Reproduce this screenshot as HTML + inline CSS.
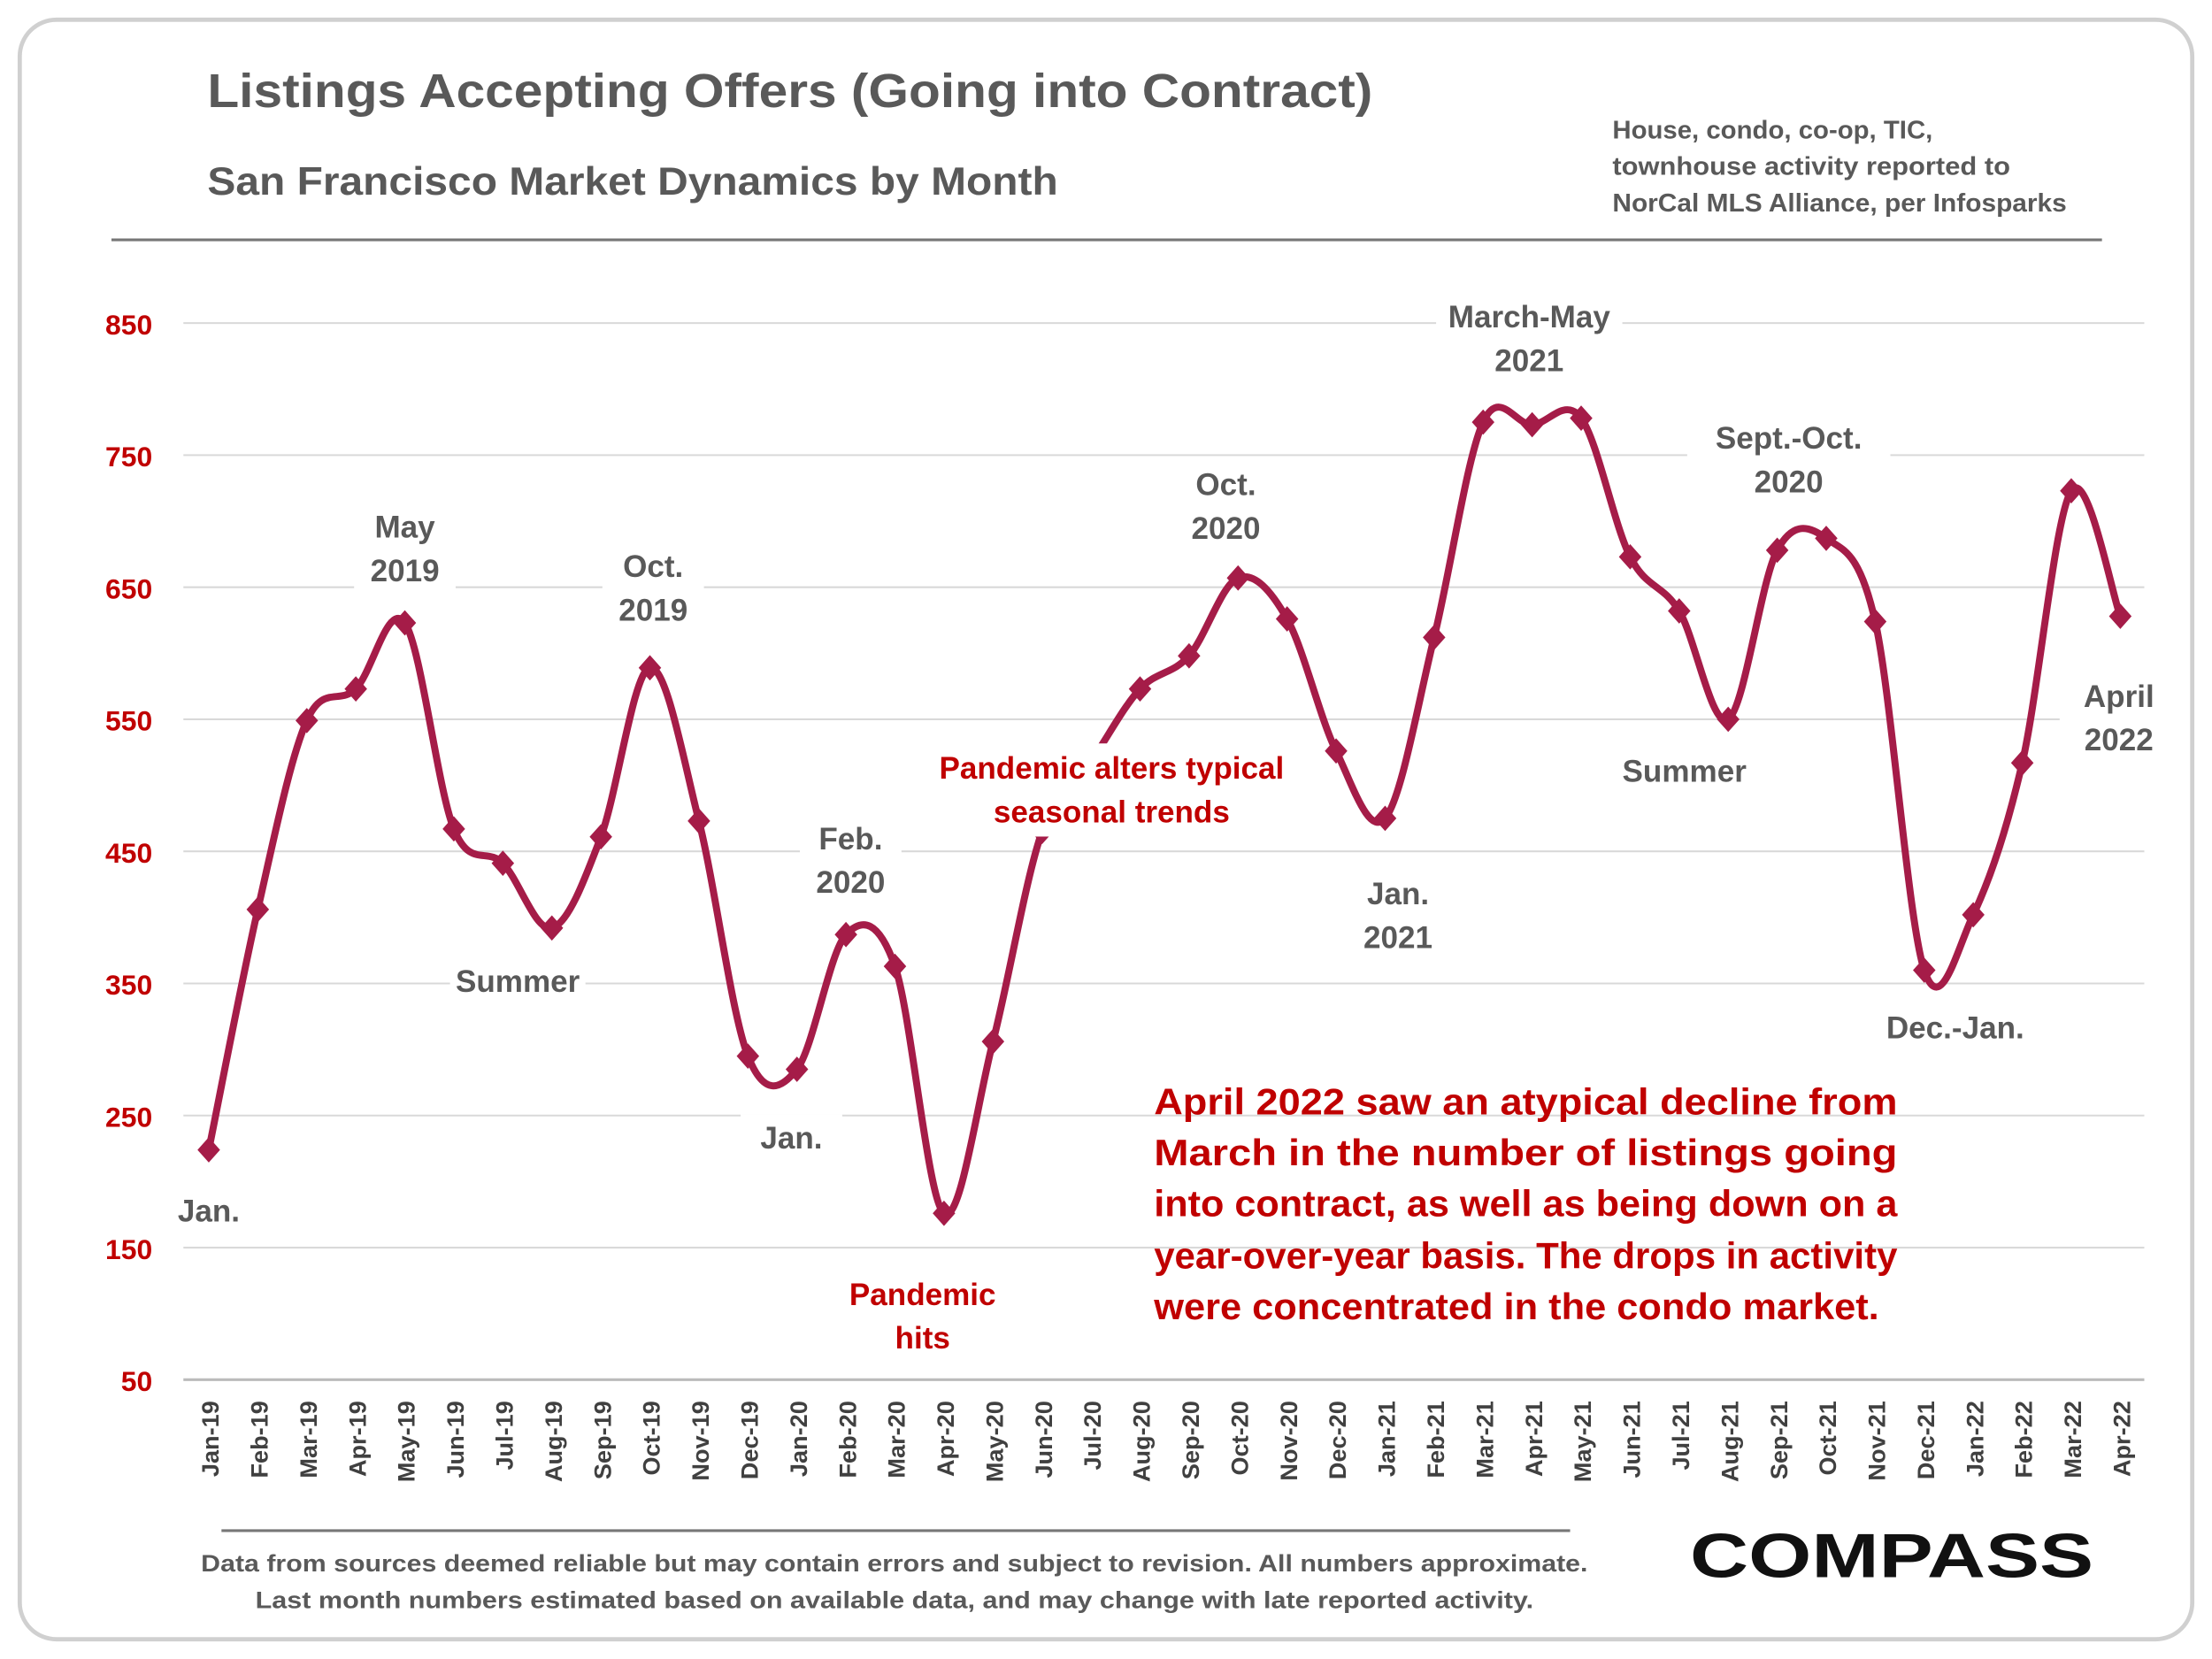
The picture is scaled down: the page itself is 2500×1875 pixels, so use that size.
<!DOCTYPE html>
<html><head><meta charset="utf-8"><style>
html,body{margin:0;padding:0;background:#fff}
svg{display:block}
text{font-family:"Liberation Sans",sans-serif;font-weight:bold}
</style></head><body>
<svg id="chart" width="2500" height="1875" viewBox="0 0 1568 1176" xmlns="http://www.w3.org/2000/svg">
<rect x="14" y="14" width="1540" height="1148" rx="26" fill="#fff" stroke="#d0d0d0" stroke-width="3"/>
<text x="147" y="76" font-size="34" fill="#595959" textLength="826" lengthAdjust="spacingAndGlyphs">Listings Accepting Offers (Going into Contract)</text>
<text x="147" y="138" font-size="28" fill="#595959" textLength="603" lengthAdjust="spacingAndGlyphs">San Francisco Market Dynamics by Month</text>
<g font-size="18" fill="#595959">
<text x="1143" y="98" textLength="227" lengthAdjust="spacingAndGlyphs">House, condo, co-op, TIC,</text>
<text x="1143" y="124" textLength="282" lengthAdjust="spacingAndGlyphs">townhouse activity reported to</text>
<text x="1143" y="150" textLength="322" lengthAdjust="spacingAndGlyphs">NorCal MLS Alliance, per Infosparks</text>
</g>
<line x1="79" y1="170" x2="1490" y2="170" stroke="#777" stroke-width="2"/>
<g id="grid"></g><g id="yticks"></g><g id="xticks"></g>
<path id="series" fill="none" stroke="#a51c48" stroke-width="5"/>
<g id="markers"></g>
<g id="annos" font-size="22" fill="#595959" text-anchor="middle"></g>
<rect x="655" y="527" width="265" height="66" fill="#fff"/>
<g font-size="22" fill="#c00000" text-anchor="middle">
<text x="788" y="552">Pandemic alters typical</text><text x="788" y="583">seasonal trends</text></g>
<g font-size="22" fill="#c00000" text-anchor="middle">
<text x="654" y="925">Pandemic</text><text x="654" y="956">hits</text></g>
<g font-size="26" fill="#c00000">
<text x="818" y="790" textLength="527" lengthAdjust="spacingAndGlyphs">April 2022 saw an atypical decline from</text>
<text x="818" y="826" textLength="527" lengthAdjust="spacingAndGlyphs">March in the number of listings going</text>
<text x="818" y="862" textLength="527" lengthAdjust="spacingAndGlyphs">into contract, as well as being down on a</text>
<text x="818" y="899" textLength="527" lengthAdjust="spacingAndGlyphs">year-over-year basis. The drops in activity</text>
<text x="818" y="935" textLength="514" lengthAdjust="spacingAndGlyphs">were  concentrated in the condo market.</text>
</g>
<line x1="157" y1="1085" x2="1113" y2="1085" stroke="#777" stroke-width="2"/>
<g font-size="17" fill="#595959" text-anchor="middle">
<text x="634" y="1114" textLength="983" lengthAdjust="spacingAndGlyphs">Data from sources deemed reliable but may contain errors and subject to revision. All numbers approximate.</text>
<text x="634" y="1140" textLength="906" lengthAdjust="spacingAndGlyphs">Last month numbers estimated based on available data, and may change with late reported activity.</text>
</g>
<text x="1198" y="1118" font-size="44" fill="#111" font-weight="normal" textLength="286" lengthAdjust="spacingAndGlyphs">COMPASS</text>
</svg>
<script>
const categories=["Jan-19","Feb-19","Mar-19","Apr-19","May-19","Jun-19","Jul-19","Aug-19","Sep-19","Oct-19","Nov-19","Dec-19","Jan-20","Feb-20","Mar-20","Apr-20","May-20","Jun-20","Jul-20","Aug-20","Sep-20","Oct-20","Nov-20","Dec-20","Jan-21","Feb-21","Mar-21","Apr-21","May-21","Jun-21","Jul-21","Aug-21","Sep-21","Oct-21","Nov-21","Dec-21","Jan-22","Feb-22","Mar-22","Apr-22"];
const values=[224,406,549,573,623,467,441,392,461,589,473,295,285,387,363,176,306,465,518,573,598,657,626,526,475,612,775,773,778,673,632,550,678,687,624,360,402,517,723,628];
const yTicks=[50,150,250,350,450,550,650,750,850];
const NS="http://www.w3.org/2000/svg";
const X0=148,X1=1503,Y0=978,Y1=229,VMIN=50,VMAX=850;
const xs=i=>X0+(X1-X0)*i/(categories.length-1);
const ys=v=>Y0-(v-VMIN)*(Y0-Y1)/(VMAX-VMIN);
function mk(tag,attrs,parent){const e=document.createElementNS(NS,tag);for(const k in attrs)e.setAttribute(k,attrs[k]);parent.appendChild(e);return e;}
const grid=document.getElementById('grid'),yt=document.getElementById('yticks'),xt=document.getElementById('xticks');
yTicks.forEach(v=>{
 const l=mk('line',{x1:130,x2:1520,y1:ys(v),y2:ys(v),stroke:v===VMIN?'#bbb':'#d9d9d9','stroke-width':v===VMIN?2:1.3},grid);
 
 
 const t=mk('text',{x:108,y:ys(v)+8,'text-anchor':'end','font-size':20,fill:'#c00000'},yt);t.textContent=v;
 
 
});
categories.forEach((c,i)=>{
 const t=mk('text',{transform:`translate(${xs(i)+7},993) rotate(-90)`,'text-anchor':'end','font-size':17,fill:'#404040'},xt);t.textContent=c;
 
 
});
const pts=values.map((v,i)=>[xs(i),ys(v)]);
let d=`M${pts[0][0]},${pts[0][1]}`;
for(let i=0;i<pts.length-1;i++){
 const p0=pts[Math.max(i-1,0)],p1=pts[i],p2=pts[i+1],p3=pts[Math.min(i+2,pts.length-1)];
 const c1=[p1[0]+(p2[0]-p0[0])/6,p1[1]+(p2[1]-p0[1])/6],c2=[p2[0]-(p3[0]-p1[0])/6,p2[1]-(p3[1]-p1[1])/6];
 d+=` C${c1[0]},${c1[1]} ${c2[0]},${c2[1]} ${p2[0]},${p2[1]}`;
}
document.getElementById('series').setAttribute('d',d);
const mg=document.getElementById('markers');
pts.forEach((p,i)=>{
 const m=mk('path',{d:`M${p[0]},${p[1]-9} L${p[0]+8},${p[1]} L${p[0]},${p[1]+9} L${p[0]-8},${p[1]} Z`,fill:'#a51c48'},mg);
 
 
});
const annos=[[148,866,["Jan."]],[287,381,["May","2019"]],[463,409,["Oct.","2019"]],[367,703,["Summer"]],[561,814,["Jan."]],[603,602,["Feb.","2020"]],[869,351,["Oct.","2020"]],[991,641,["Jan.","2021"]],[1084,232,["March-May","2021"]],[1268,318,["Sept.-Oct.","2020"]],[1194,554,["Summer"]],[1386,736,["Dec.-Jan."]],[1502,501,["April","2022"]]];
const ag=document.getElementById('annos');
annos.forEach(a=>{
 const lines=a[2];
 const w=Math.max(...lines.map(s=>s.length))*12+24;
 const bg=mk('rect',{x:a[0]-w/2,y:a[1]-24,width:w,height:lines.length*31+6,fill:'#fff'},ag);
 
 
 lines.forEach((s,j)=>{const t=mk('text',{x:a[0],y:a[1]+j*31},ag);t.textContent=s;
 
 });
});
</script>
</body></html>
